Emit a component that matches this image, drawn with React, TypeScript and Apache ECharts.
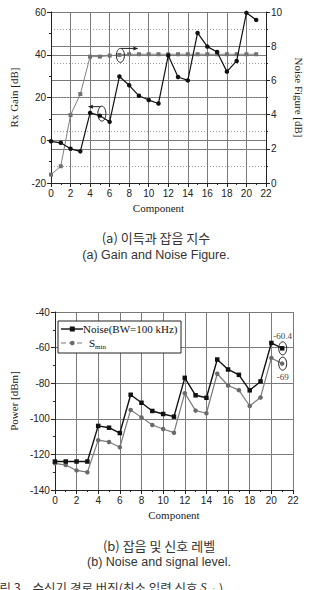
import React, { useEffect, useRef } from "react";
import * as echarts from "echarts";

// Receiver chain stages
const components = [0, 1, 2, 3, 4, 5, 6, 7, 8, 9, 10, 11, 12, 13, 14, 15, 16, 17, 18, 19, 20, 21];

// (a) cumulative gain [dB] and noise figure [dB]
const rxGain = [-0.5, -1.2, -4, -5.2, 12.8, 11.5, 8.6, 29.8, 25.7, 20.8, 18.8, 17.2, 39.7, 29.6, 28, 50.2, 43.8, 41.3, 32.1, 37.1, 59.6, 56.3];
const noiseFigure = [0.49, 0.98, 3.97, 5.2, 7.39, 7.39, 7.45, 7.49, 7.53, 7.53, 7.53, 7.53, 7.53, 7.53, 7.53, 7.53, 7.53, 7.53, 7.53, 7.53, 7.53, 7.53];

// (b) noise power and minimum signal level [dBm]
const noisePower = [-124, -124, -124, -124, -104, -105, -108, -86.5, -91, -95.6, -97.3, -98.8, -77, -86.8, -88.2, -66.7, -72.3, -75.3, -84, -79, -57.4, -60.4];
const sMin = [-125, -126, -129, -130, -112, -113, -116, -95, -99.2, -103.5, -105.7, -107.8, -85.6, -95.4, -96.9, -74.7, -81.3, -83.9, -92.8, -88, -65.8, -69];

// Axis ticks
const componentTicks = { min: 0, max: 22, interval: 2 };
const gainTicks = { min: -20, max: 60, interval: 20 };
const nfTicks = { min: 0, max: 10, interval: 2 };
const powerTicks = { min: -140, max: -40, interval: 20 };

const SANS = "Liberation Sans";
const SERIF = "Liberation Serif";
const CJK = "Noto Sans CJK KR";

const pairs = (ys: number[]) => components.map((x, i) => [x, ys[i]]);

function xAxis(gridIndex: number) {
  return {
    type: "value",
    gridIndex,
    ...componentTicks,
    axisLine: { onZero: false, lineStyle: { color: "#222", width: 1 } },
    axisTick: { show: true, length: 4, lineStyle: { color: "#222" } },
    minorTick: { show: true, splitNumber: 2, length: 2, lineStyle: { color: "#222" } },
    splitLine: { show: true, lineStyle: { color: "#7a7a7a", width: 1 } },
    axisLabel: { fontFamily: SANS, fontSize: 10, color: "#222", margin: 5 },
    name: "Component",
    nameLocation: "middle",
    nameGap: 19,
    nameTextStyle: { fontFamily: SERIF, fontSize: 11, fontWeight: "normal", color: "#222" },
  };
}

function yAxis(gridIndex: number, ticks: any, name: string, position: string, extra: any = {}) {
  return {
    type: "value",
    gridIndex,
    position,
    ...ticks,
    axisLine: { show: true, onZero: false, lineStyle: { color: "#222", width: 1 } },
    axisTick: { show: true, length: 4, lineStyle: { color: "#222" } },
    minorTick: { show: true, splitNumber: 2, length: 2, lineStyle: { color: "#222" } },
    splitLine: { show: true, lineStyle: { color: "#7a7a7a", width: 1 } },
    axisLabel: { fontFamily: SANS, fontSize: 10, color: "#222", margin: 5 },
    name,
    nameLocation: "middle",
    nameTextStyle: { fontFamily: SERIF, fontSize: 11, fontWeight: "normal", color: "#222" },
    ...extra,
  };
}

export default function App() {
  const ref = useRef<HTMLDivElement>(null);

  useEffect(() => {
    const chart = echarts.init(ref.current!, null, { renderer: "svg" });

    chart.setOption({
      animation: false,
      backgroundColor: "#ffffff",
      grid: [
        { left: 47, right: 32, top: 12, height: 171 },
        { left: 51, right: 19, top: 312, height: 178 },
      ],
      xAxis: [xAxis(0), xAxis(1)],
      yAxis: [
        yAxis(0, gainTicks, "Rx Gain [dB]", "left", { nameGap: 32, nameRotate: 90 }),
        yAxis(0, nfTicks, "Noise Figure [dB]", "right", {
          nameGap: 17,
          nameRotate: -90,
          splitLine: { show: true, lineStyle: { color: "#7a7a7a", width: 1 } },
          minorSplitLine: { show: true, lineStyle: { color: "#9a9a9a", width: 1, type: [1, 2] } },
        }),
        yAxis(1, powerTicks, "Power [dBm]", "left", { nameGap: 34, nameRotate: 90 }),
      ],
      series: [
        {
          name: "Rx Gain",
          type: "line",
          xAxisIndex: 0,
          yAxisIndex: 0,
          data: pairs(rxGain),
          symbol: "circle",
          symbolSize: 4.5,
          lineStyle: { color: "#111", width: 1.2 },
          itemStyle: { color: "#111" },
          z: 5,
        },
        {
          name: "Noise Figure",
          type: "line",
          xAxisIndex: 0,
          yAxisIndex: 1,
          data: pairs(noiseFigure),
          symbol: "rect",
          symbolSize: 4,
          lineStyle: { color: "#808080", width: 1 },
          itemStyle: { color: "#707070" },
          z: 4,
        },
        {
          name: "Noise(BW=100 kHz)",
          type: "line",
          xAxisIndex: 1,
          yAxisIndex: 2,
          data: pairs(noisePower),
          symbol: "rect",
          symbolSize: 4.5,
          lineStyle: { color: "#111", width: 1.4 },
          itemStyle: { color: "#111" },
          z: 5,
        },
        {
          name: "Smin",
          type: "line",
          xAxisIndex: 1,
          yAxisIndex: 2,
          data: pairs(sMin),
          symbol: "circle",
          symbolSize: 4.5,
          lineStyle: { color: "#7a7a7a", width: 1.2 },
          itemStyle: { color: "#6a6a6a" },
          z: 4,
        },
      ],
    });

    const px = (xi: number, yi: number, x: number, y: number) =>
      chart.convertToPixel({ xAxisIndex: xi, yAxisIndex: yi }, [x, y]) as number[];

    const ellipse = (cx: number, cy: number, rx: number, ry: number) => ({
      type: "ellipse",
      shape: { cx, cy, rx, ry },
      style: { fill: "none", stroke: "#222", lineWidth: 1 },
      z: 20,
    });
    const arrow = (x1: number, x2: number, y: number) => {
      const dir = x2 > x1 ? 1 : -1;
      return [
        { type: "line", shape: { x1, y1: y, x2: x2 - dir * 4, y2: y }, style: { stroke: "#222", lineWidth: 1 }, z: 20 },
        {
          type: "polygon",
          shape: { points: [[x2, y], [x2 - dir * 5, y - 2], [x2 - dir * 5, y + 2]] },
          style: { fill: "#222" },
          z: 20,
        },
      ];
    };

    // (a) markers pointing each curve to its axis
    const gMark = px(0, 0, 5, rxGain[5]);
    const nfMark = px(0, 1, 7, noiseFigure[7]);
    const gcx = gMark[0] + 2, gcy = gMark[1] - 2;
    const ncx = nfMark[0] + 1, ncy = nfMark[1] + 0.5;

    // (b) end values
    const nEnd = px(1, 2, 21, noisePower[21]);
    const sEnd = px(1, 2, 21, sMin[21]);

    // (b) legend box
    const lgX = 58, lgY = 321, lgW = 123, lgH = 32;
    const row1 = lgY + 8, row2 = lgY + 22;

    chart.setOption({
      graphic: [
        ellipse(gcx, gcy, 4, 7.5),
        ...arrow(gcx - 1, gcx - 14, gcy - 7),
        ellipse(ncx, ncy, 4, 7),
        ...arrow(ncx + 1, ncx + 18, ncy - 7),

        ellipse(nEnd[0] + 0.5, nEnd[1], 4, 6.5),
        ellipse(sEnd[0] + 0.5, sEnd[1], 4, 6.5),
        {
          type: "text",
          x: nEnd[0] + 0.5,
          y: nEnd[1] - 12.5,
          style: { text: noisePower[21].toFixed(1), fontFamily: SERIF, fontSize: 9, fill: "#444", align: "center", verticalAlign: "middle" },
          z: 20,
        },
        {
          type: "text",
          x: sEnd[0] + 0.5,
          y: sEnd[1] + 13.5,
          style: { text: String(sMin[21]), fontFamily: SERIF, fontSize: 9, fill: "#444", align: "center", verticalAlign: "middle" },
          z: 20,
        },

        {
          type: "rect",
          shape: { x: lgX, y: lgY, width: lgW, height: lgH },
          style: { fill: "#fff", stroke: "#222", lineWidth: 1 },
          z: 30,
        },
        { type: "line", shape: { x1: lgX + 3, y1: row1, x2: lgX + 25, y2: row1 }, style: { stroke: "#111", lineWidth: 1.4 }, z: 31 },
        { type: "rect", shape: { x: lgX + 11.8, y: row1 - 2.5, width: 5, height: 5 }, style: { fill: "#111" }, z: 31 },
        {
          type: "text",
          x: lgX + 25,
          y: row1,
          style: { text: "Noise(BW=100 kHz)", fontFamily: SERIF, fontSize: 11, fill: "#111", verticalAlign: "middle" },
          z: 31,
        },
        { type: "line", shape: { x1: lgX + 3, y1: row2, x2: lgX + 25, y2: row2 }, style: { stroke: "#7a7a7a", lineWidth: 1.2, lineDash: [5, 3] }, z: 31 },
        { type: "circle", shape: { cx: lgX + 14.3, cy: row2, r: 2.3 }, style: { fill: "#6a6a6a" }, z: 31 },
        {
          type: "text",
          x: lgX + 31,
          y: row2,
          style: {
            text: "{s|S}{m|min}",
            verticalAlign: "middle",
            rich: {
              s: { fontFamily: SERIF, fontSize: 11, fill: "#111" },
              m: { fontFamily: SERIF, fontSize: 7, fill: "#111", padding: [7, 0, 0, 0] },
            },
          },
          z: 31,
        },

        // captions
        {
          type: "text",
          x: 156,
          y: 237,
          style: { text: "(a) 이득과 잡음 지수", fontFamily: CJK, fontSize: 13, fill: "#333", align: "center", verticalAlign: "middle" },
        },
        {
          type: "text",
          x: 156,
          y: 255,
          style: { text: "(a) Gain and Noise Figure.", fontFamily: SANS, fontSize: 12.5, fill: "#333", align: "center", verticalAlign: "middle" },
        },
        {
          type: "text",
          x: 159,
          y: 545,
          style: { text: "(b) 잡음 및 신호 레벨", fontFamily: CJK, fontSize: 13, fill: "#333", align: "center", verticalAlign: "middle" },
        },
        {
          type: "text",
          x: 159,
          y: 562,
          style: { text: "(b) Noise and signal level.", fontFamily: SANS, fontSize: 12.5, fill: "#333", align: "center", verticalAlign: "middle" },
        },
        {
          type: "text",
          x: -12,
          y: 587,
          style: {
            text: "{n|그림 3.   수신기 경로 버짓(최소 입력 신호 }{i|S}{m|min}{n|)}",
            verticalAlign: "middle",
            rich: {
              n: { fontFamily: CJK, fontSize: 12.5, fill: "#333" },
              i: { fontFamily: SERIF, fontSize: 12.5, fontStyle: "italic", fill: "#333" },
              m: { fontFamily: SERIF, fontSize: 8, fill: "#333", padding: [8, 0, 0, 0] },
            },
          },
        },
      ],
    });

    return () => chart.dispose();
  }, []);

  return <div ref={ref} style={{ position: "absolute", left: 0, top: 0, width: 312, height: 590 }} />;
}
